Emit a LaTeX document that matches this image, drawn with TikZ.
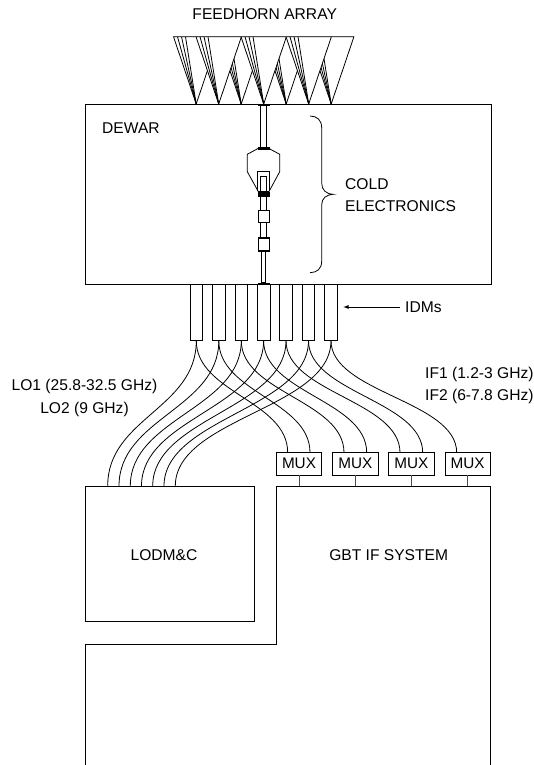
\documentclass[tikz,border=0pt]{standalone}
\usepackage{fontspec}
\setmainfont{Liberation Sans}
\tikzset{
    line/.style={draw=black, line width=.8pt},
    idmbox/.style={draw=black, line width=.9pt, fill=white, minimum width=12.7pt, minimum height=56pt, inner sep=0pt},
    muxbox/.style={draw=black, line width=.8pt, fill=white, minimum width=45.3pt, minimum height=22.3pt, inner sep=0pt},
    caption/.style={inner sep=0pt, font=\fontsize{15.6}{21.4}\selectfont, align=left},
    heavy/.style={fill=black, draw=black, line width=.4pt},
}
\begin{document}
\begin{tikzpicture}[x=1pt, y=-1pt]
            \useasboundingbox (0,0) rectangle (533,765);
            % feedhorns, back row first
            \foreach \b in {196.2,241.2,286.2,331.2,218.7,263.7,308.7} {
                \draw[line, fill=white] (\b,104) -- ++(-22.7,-67.3) -- ++(45.4,0) -- cycle;
                \foreach \f in {4,8,12} {
                    \draw[line] (\b,104) -- ++(-22.7+\f,-67.3);
                }
            }
            \draw[line, draw=black!70, line width=1pt] (173.5,36.7) -- (353.4,36.7);
            % dewar and cold stage
            \node[line, fill=white, minimum width=406pt, minimum height=180pt, inner sep=0pt] (dewar) at (288.5,194) {};
            \draw[line, fill=white] (260.7,105) rectangle (266.7,148);
            \draw[line, fill=white] (258,148.5) -- (247.3,154.3) -- (247.3,171.7) -- (258.3,191.5) -- (269,191.5) -- (279.7,171.7) -- (279.7,154.3) -- (269,148.5) -- cycle;
            \draw[line] (257.7,191) -- (257.7,171.7) -- (269.3,171.7) -- (269.3,191);
            \draw[line] (260.7,192) -- (260.7,176.7) -- (266.7,176.7) -- (266.7,192);
            \draw[heavy] (258,147.5) rectangle (269,149);
            \draw[heavy] (258,191.7) rectangle (269.5,196);
            \draw[line] (260.7,196) rectangle (266.7,210.7);
            \draw[line] (258,210.7) rectangle (269.5,222.3);
            \draw[line] (260.7,222.3) rectangle (266.7,237.7);
            \draw[line] (258,237.7) rectangle (269.5,251);
            \draw[heavy] (258,237) rectangle (269.5,238.5);
            \draw[heavy] (258,250.2) rectangle (269.5,251.4);
            \draw[line] (261.7,251) rectangle (265,282.7);
            \draw[heavy] (258,282.7) rectangle (269,284);
            \draw[heavy] (258,104) rectangle (269,105.5);
            \draw[line] (310,116) .. controls (317,116) and (321.7,120) .. (321.7,128) -- (321.7,183) .. controls (321.7,190) and (326,194) .. (333.3,194.3) .. controls (326,195) and (321.7,198) .. (321.7,205) -- (321.7,261) .. controls (321.7,269) and (317,272.5) .. (310,272.7);
            % labels
            \node[caption] (feedhorn) at (264.7,14) {FEEDHORN ARRAY};
            \node[caption, anchor=west] (dewarlabel) at (102,127.7) {DEWAR};
            \node[caption, anchor=west] (cold) at (345,195) {COLD\\ELECTRONICS};
            \node[caption, anchor=west] (idmlabel) at (405,307) {IDMs};
            \node[caption, align=center, font=\fontsize{15.6}{23}\selectfont] (lolabel) at (84.5,397.7) {LO1 (25.8-32.5 GHz)\\LO2 (9 GHz)};
            \node[caption, anchor=west] (iflabel) at (425,385.5) {IF1 (1.2-3 GHz)\\IF2 (6-7.8 GHz)};
            % boxes at the bottom
            \node[line, minimum width=169pt, minimum height=135pt, inner sep=0pt] (lodmc) at (169.7,553.5) {};
            \node[caption] (lodmclabel) at (164,555) {LODM\&C};
            \draw[line] (85,765) -- (85,644) -- (276.7,644) -- (276.7,486) -- (490.3,486) -- (490.3,765);
            \node[caption] (gbtlabel) at (388.7,555) {GBT IF SYSTEM};
            % multiplexers
            \foreach \n/\x in {1/299,2/355.3,3/411.3,4/467.6} {
                \node[muxbox] (mux\n) at (\x,463.8) {\fontsize{15.3}{18}\selectfont MUX};
                \draw[line, draw=black!70, line width=1pt] (mux\n.south) -- (\x,486);
            }
            % IDMs with their cables
            \foreach \n/\x/\lo/\mx in {1/196.3/107.7/287.7, 2/218.8/119/310, 3/241.3/130.3/344, 4/263.6/141.5/366.7, 5/286/152.7/400, 6/308.5/164/422.7, 7/331/175.3/456.7} {
                \node[idmbox] (idm\n) at (\x,312.2) {};
                \coordinate (lo\n) at (\lo,486);
                \coordinate (if\n) at (\mx,452.7);
                \draw[line] (idm\n.south) .. controls +(0,68) and +(0,-68) .. (lo\n);
                \draw[line] (idm\n.south) .. controls +(0,52) and +(0,-52) .. (if\n);
            }
            % arrow to the IDMs
            \coordinate (idmend) at (343.3,307);
            \draw[line, -latex] (idmlabel.west) ++(-5,0) -- (idmend);
        \end{tikzpicture}
\end{document}
